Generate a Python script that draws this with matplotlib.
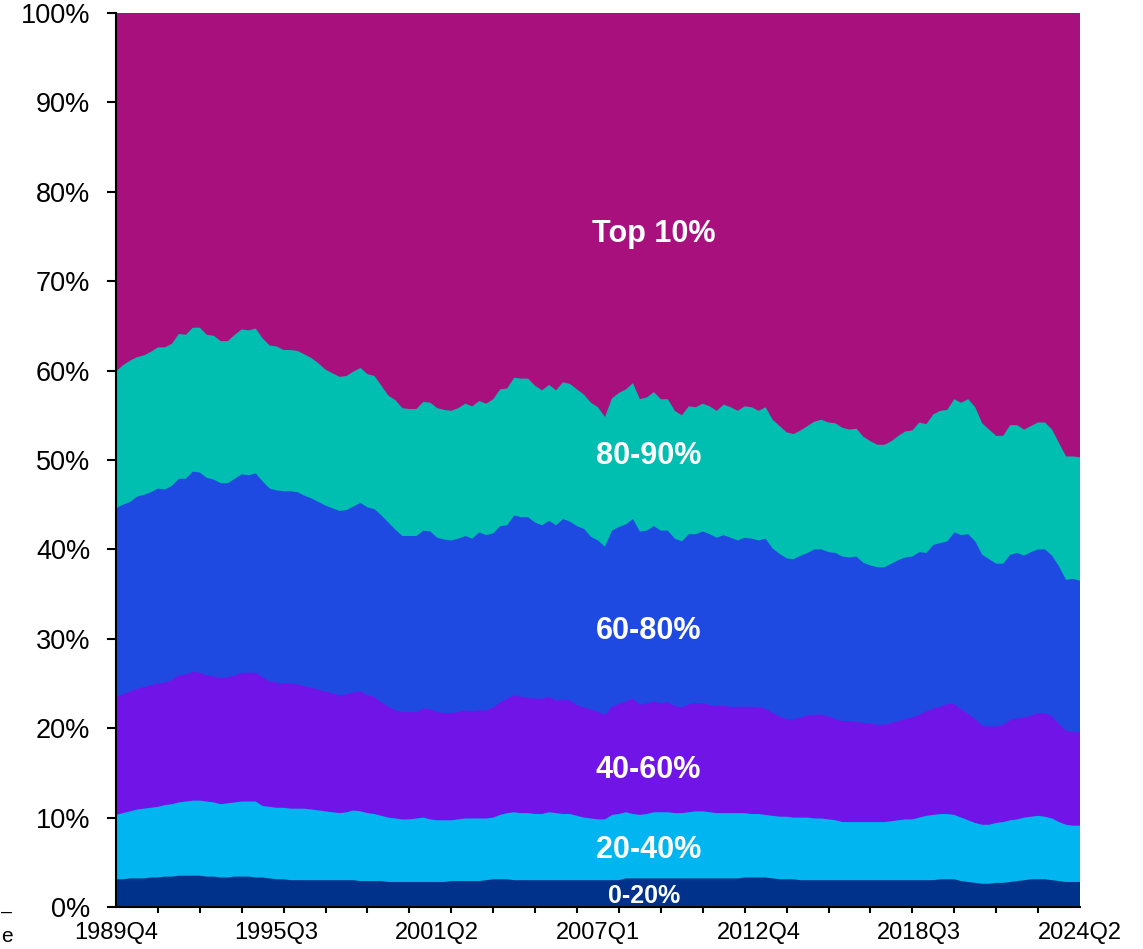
import matplotlib
matplotlib.use("Agg")
import matplotlib.pyplot as plt
import numpy as np

# Quarterly categories 1989Q4 .. 2024Q2
start_year, start_q, n_quarters = 1989, 4, 139
quarters = [f"{start_year + (start_q - 1 + i) // 4}Q{(start_q - 1 + i) % 4 + 1}" for i in range(n_quarters)]

# Cumulative shares (%): upper edge of each band
top_0_20 = [3.1, 3.1, 3.2, 3.2, 3.2, 3.3, 3.3, 3.4, 3.4, 3.5,
            3.5, 3.5, 3.5, 3.4, 3.4, 3.3, 3.3, 3.4, 3.4, 3.4,
            3.3, 3.3, 3.2, 3.1, 3.1, 3.0, 3.0, 3.0, 3.0, 3.0,
            3.0, 3.0, 3.0, 3.0, 3.0, 2.9, 2.9, 2.9, 2.9, 2.8,
            2.8, 2.8, 2.8, 2.8, 2.8, 2.8, 2.8, 2.8, 2.9, 2.9,
            2.9, 2.9, 2.9, 3.0, 3.1, 3.1, 3.1, 3.0, 3.0, 3.0,
            3.0, 3.0, 3.0, 3.0, 3.0, 3.0, 3.0, 3.0, 3.0, 3.0,
            3.0, 3.0, 3.0, 3.2, 3.2, 3.2, 3.2, 3.2, 3.2, 3.2,
            3.2, 3.2, 3.2, 3.2, 3.2, 3.2, 3.2, 3.2, 3.2, 3.2,
            3.3, 3.3, 3.3, 3.3, 3.2, 3.1, 3.1, 3.1, 3.0, 3.0,
            3.0, 3.0, 3.0, 3.0, 3.0, 3.0, 3.0, 3.0, 3.0, 3.0,
            3.0, 3.0, 3.0, 3.0, 3.0, 3.0, 3.0, 3.0, 3.1, 3.1,
            3.1, 2.9, 2.8, 2.7, 2.6, 2.6, 2.7, 2.7, 2.8, 2.9,
            3.0, 3.1, 3.1, 3.1, 3.0, 2.9, 2.8, 2.8, 2.8]

top_20_40 = [10.3, 10.5, 10.7, 10.9, 11.0, 11.1, 11.2, 11.4, 11.5, 11.7,
             11.8, 11.9, 11.9, 11.8, 11.7, 11.5, 11.6, 11.7, 11.8, 11.8,
             11.8, 11.3, 11.2, 11.1, 11.1, 11.0, 11.0, 11.0, 10.9, 10.8,
             10.7, 10.6, 10.5, 10.6, 10.8, 10.7, 10.5, 10.4, 10.2, 10.0,
             9.9, 9.8, 9.8, 9.9, 10.0, 9.8, 9.7, 9.7, 9.7, 9.8,
             9.9, 9.9, 9.9, 9.9, 10.0, 10.3, 10.5, 10.6, 10.5, 10.5,
             10.4, 10.4, 10.6, 10.5, 10.4, 10.4, 10.2, 10.0, 9.9, 9.8,
             9.8, 10.3, 10.4, 10.6, 10.4, 10.3, 10.4, 10.6, 10.6, 10.6,
             10.5, 10.5, 10.6, 10.7, 10.7, 10.6, 10.5, 10.5, 10.5, 10.5,
             10.5, 10.4, 10.4, 10.3, 10.2, 10.1, 10.1, 10.0, 10.0, 10.0,
             9.9, 9.9, 9.8, 9.7, 9.5, 9.5, 9.5, 9.5, 9.5, 9.5,
             9.5, 9.6, 9.7, 9.8, 9.8, 10.0, 10.2, 10.3, 10.4, 10.4,
             10.3, 10.0, 9.7, 9.4, 9.2, 9.2, 9.4, 9.5, 9.7, 9.8,
             10.0, 10.1, 10.2, 10.1, 9.9, 9.5, 9.2, 9.1, 9.1]

top_40_60 = [23.5, 23.8, 24.1, 24.4, 24.6, 24.8, 25.0, 25.1, 25.4, 25.9,
             26.0, 26.3, 26.2, 25.9, 25.8, 25.6, 25.7, 25.9, 26.2, 26.2,
             26.2, 25.7, 25.2, 25.1, 25.0, 25.0, 24.9, 24.7, 24.5, 24.3,
             24.1, 23.9, 23.7, 23.8, 24.0, 24.1, 23.7, 23.5, 22.9, 22.4,
             22.0, 21.8, 21.8, 21.8, 22.2, 22.1, 21.8, 21.7, 21.7, 21.8,
             22.0, 21.9, 22.0, 22.0, 22.3, 22.9, 23.3, 23.7, 23.5, 23.4,
             23.3, 23.3, 23.5, 23.1, 23.2, 23.1, 22.6, 22.3, 22.1, 21.8,
             21.5, 22.4, 22.7, 23.0, 23.3, 22.6, 22.8, 23.0, 22.8, 22.9,
             22.5, 22.3, 22.7, 22.8, 22.8, 22.6, 22.5, 22.5, 22.4, 22.4,
             22.4, 22.4, 22.3, 22.2, 21.7, 21.3, 21.0, 21.0, 21.2, 21.4,
             21.5, 21.5, 21.3, 21.0, 20.8, 20.8, 20.7, 20.6, 20.5, 20.4,
             20.4, 20.6, 20.8, 21.0, 21.2, 21.5, 21.9, 22.2, 22.4, 22.7,
             22.7, 22.1, 21.6, 21.0, 20.3, 20.2, 20.2, 20.4, 20.9, 21.1,
             21.2, 21.4, 21.7, 21.7, 21.3, 20.5, 19.7, 19.6, 19.5]

top_60_80 = [44.6, 45.0, 45.3, 45.9, 46.1, 46.4, 46.8, 46.7, 47.1, 47.9,
             47.9, 48.7, 48.6, 48.0, 47.8, 47.4, 47.4, 47.9, 48.4, 48.3,
             48.5, 47.6, 46.8, 46.6, 46.5, 46.5, 46.4, 46.0, 45.7, 45.3,
             44.9, 44.6, 44.3, 44.4, 44.8, 45.2, 44.7, 44.5, 43.8, 43.0,
             42.2, 41.5, 41.5, 41.5, 42.1, 42.0, 41.3, 41.1, 41.0, 41.2,
             41.5, 41.2, 41.9, 41.6, 41.8, 42.6, 42.7, 43.8, 43.6, 43.6,
             43.0, 42.7, 43.2, 42.7, 43.4, 43.1, 42.6, 42.3, 41.4, 41.0,
             40.3, 42.1, 42.5, 42.8, 43.4, 42.0, 42.1, 42.6, 42.1, 42.1,
             41.2, 40.9, 41.7, 41.7, 42.0, 41.7, 41.3, 41.6, 41.3, 41.0,
             41.3, 41.2, 41.0, 41.2, 40.1, 39.5, 39.0, 38.9, 39.3, 39.6,
             40.0, 40.0, 39.7, 39.6, 39.2, 39.1, 39.2, 38.5, 38.2, 38.0,
             38.0, 38.4, 38.8, 39.1, 39.2, 39.7, 39.6, 40.5, 40.7, 40.9,
             41.9, 41.6, 41.7, 40.9, 39.4, 38.9, 38.4, 38.4, 39.4, 39.6,
             39.3, 39.7, 40.0, 40.0, 39.3, 38.1, 36.6, 36.7, 36.5]

top_80_90 = [59.9, 60.6, 61.1, 61.5, 61.7, 62.1, 62.6, 62.6, 63.0, 64.1,
             64.0, 64.8, 64.8, 64.0, 63.9, 63.3, 63.3, 64.0, 64.6, 64.5,
             64.7, 63.6, 62.8, 62.7, 62.3, 62.3, 62.2, 61.8, 61.4, 60.8,
             60.1, 59.7, 59.3, 59.4, 59.9, 60.3, 59.6, 59.4, 58.3, 57.2,
             56.7, 55.8, 55.7, 55.7, 56.5, 56.4, 55.8, 55.6, 55.5, 55.8,
             56.3, 56.0, 56.6, 56.3, 56.8, 57.9, 58.0, 59.2, 59.1, 59.1,
             58.3, 57.8, 58.4, 57.8, 58.7, 58.5, 57.9, 57.3, 56.4, 55.9,
             54.8, 56.9, 57.5, 57.9, 58.6, 56.8, 57.0, 57.6, 56.8, 56.8,
             55.5, 55.0, 56.0, 55.9, 56.3, 56.0, 55.5, 56.2, 55.9, 55.5,
             56.0, 55.9, 55.5, 55.9, 54.5, 53.8, 53.1, 52.9, 53.3, 53.8,
             54.3, 54.5, 54.2, 54.1, 53.6, 53.4, 53.5, 52.6, 52.1, 51.7,
             51.7, 52.1, 52.7, 53.2, 53.3, 54.2, 54.0, 55.1, 55.5, 55.6,
             56.8, 56.4, 56.8, 55.9, 54.1, 53.4, 52.7, 52.7, 53.9, 53.9,
             53.4, 53.8, 54.2, 54.2, 53.4, 51.9, 50.4, 50.4, 50.3]

top_all = [100.0] * n_quarters

band_names = ["Top 10%", "80-90%", "60-80%", "40-60%", "20-40%", "0-20%"]
band_tops = [top_all, top_80_90, top_60_80, top_40_60, top_20_40, top_0_20]
band_colors = ["#A8107E", "#00BFB0", "#1F4AE2", "#7014E8", "#00B5F0", "#00328C"]
band_label_pos = [(77.0, 75.3), (76.2, 50.5), (76.2, 30.9), (76.2, 15.3), (76.2, 6.4), (75.6, 1.2)]
band_label_size = [22, 22, 22, 22, 22, 18]

x = np.arange(n_quarters)

fig = plt.figure(figsize=(11.43, 9.49), dpi=100)
ax = fig.add_axes([116 / 1143, 1 - 907 / 949, (1080 - 116) / 1143, (907 - 13) / 949])

for tops, col in zip(band_tops, band_colors):
    ax.fill_between(x, 0, np.asarray(tops), facecolor=col, edgecolor="none", linewidth=0)

font = ["Liberation Sans", "DejaVu Sans"]
for name, (px, py), fs in zip(band_names, band_label_pos, band_label_size):
    ax.text(px, py, name, color="white", fontsize=fs, fontweight="bold",
            ha="center", va="center", family=font)

ax.set_xlim(0, n_quarters - 1)
ax.set_ylim(0, 100)

# y axis
ax.set_yticks(np.arange(0, 101, 10))
ax.set_yticklabels([f"{v}%" for v in range(0, 101, 10)], family=font, fontsize=19.5)
ax.tick_params(axis="y", direction="out", length=6.5, width=1.5, pad=12)

# x axis: tick marks every 6 quarters, labels every 23 quarters
label_idx = list(range(0, n_quarters, 23))
ax.set_xticks(label_idx)
ax.set_xticklabels([quarters[i] for i in label_idx], family=font, fontsize=17)
ax.set_xticks(list(range(0, n_quarters, 6)), minor=True)
ax.tick_params(axis="x", which="major", length=0, pad=11)
ax.tick_params(axis="x", which="minor", direction="out", length=4.5, width=1.5)

for s in ["top", "right"]:
    ax.spines[s].set_visible(False)
for s in ["left", "bottom"]:
    ax.spines[s].set_linewidth(1.5)
    ax.spines[s].set_color("black")
ax.set_axisbelow(False)

# small remnants at the lower-left edge
fig.text(1 / 1143, 1 - 912 / 949, "\u2013", fontsize=14, family=font, ha="left", va="center")
fig.text(1 / 1143, 1 - 937 / 949, "e", fontsize=15, family=font, ha="left", va="center")

fig.savefig("out.png", dpi=100)
